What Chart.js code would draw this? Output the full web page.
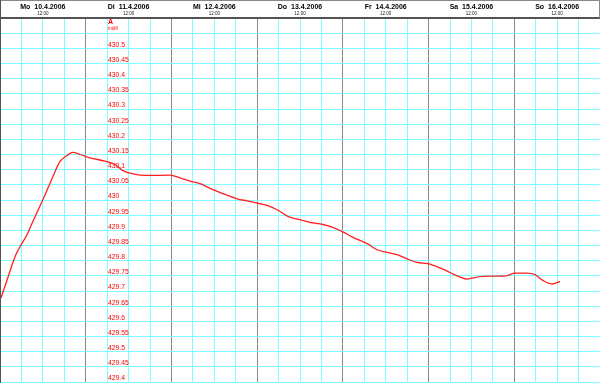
<!DOCTYPE html>
<html>
<head>
<meta charset="utf-8">
<script src="https://cdn.jsdelivr.net/npm/chart.js@4/dist/chart.umd.min.js"></script>
<style>
  html, body { margin: 0; padding: 0; background: #fff; }
  canvas { display: block; }
</style>
</head>
<body>
<canvas id="myChart" width="600" height="383"></canvas>
<script>
// Pegel, Stunden ab Mo 10.4.2006 00:00
const dayLabels = ['Mo  10.4.2006', 'Di  11.4.2006', 'Mi  12.4.2006', 'Do  13.4.2006', 'Fr  14.4.2006', 'Sa  15.4.2006', 'So  16.4.2006'];
const hours = [0.3, 2.0, 4.2, 5.6, 7.6, 9.2, 12.0, 14.8, 16.8, 18.8, 20.4, 22.4, 25.2, 29.4, 32.2, 34.4, 37.2, 41.2, 47.6, 50.4,
  53.2, 56.0, 59.6, 62.4, 66.4, 69.2, 72.0, 74.8, 77.6, 80.6, 84.0, 86.8, 89.6, 93.2, 96.0, 98.8, 102.8, 105.6, 108.4, 111.2,
  114.0, 116.8, 119.8, 123.2, 126.0, 128.8, 130.8, 132.4, 135.2, 139.2, 142.0, 144.2, 147.6, 149.8, 152.0, 154.6, 156.8];
const levels = [429.678, 429.737, 429.813, 429.846, 429.886, 429.929, 430.001, 430.077, 430.127, 430.147, 430.157, 430.150, 430.139, 430.128, 430.117, 430.097, 430.086, 430.081, 430.082, 430.073,
  430.062, 430.054, 430.034, 430.021, 430.004, 429.997, 429.990, 429.982, 429.968, 429.946, 429.935, 429.926, 429.921, 429.910, 429.895, 429.877, 429.856, 429.836, 429.827, 429.820,
  429.806, 429.794, 429.790, 429.776, 429.761, 429.746, 429.739, 429.743, 429.748, 429.749, 429.751, 429.759, 429.759, 429.754, 429.735, 429.723, 429.732];
const yMin = 429.4, yMax = 430.6, yStep = 0.05;
const unitLabel = 'müM';
const fam = "'Liberation Sans', Arial, sans-serif";

const isTop = v => Math.abs(v - 430.55) < 1e-6;
// Achsen ohne eigene Breite/Polster, Beschriftung liegt im Diagramm
const flat = s => {
  if (s.isHorizontal()) s.height = s.id === 'x' ? 11 : 7;
  else s.width = 0;
  s.paddingTop = s.paddingBottom = s.paddingLeft = s.paddingRight = 0;
};

const frame = {
  id: 'frame',
  afterDraw(chart) {
    const c = chart.ctx, top = chart.chartArea.top;
    c.save();
    c.strokeStyle = '#888';
    c.lineWidth = 1;
    c.beginPath();
    c.moveTo(0, 0.5); c.lineTo(600, 0.5);
    c.moveTo(599.5, 0); c.lineTo(599.5, top);
    c.stroke();
    c.strokeStyle = '#555';
    c.beginPath();
    c.moveTo(0.5, 0); c.lineTo(0.5, chart.height);
    c.stroke();
    c.restore();
  }
};

const ctx = document.getElementById('myChart').getContext('2d');
new Chart(ctx, {
  type: 'line',
  data: {
    datasets: [{
      data: hours.map((h, i) => ({x: h, y: levels[i]})),
      borderColor: '#ff2020',
      borderWidth: 1.3,
      pointRadius: 0,
      tension: 0.4,
      cubicInterpolationMode: 'monotone',
      fill: false
    }]
  },
  options: {
    responsive: false,
    animation: false,
    layout: { padding: { left: 0, right: 0, top: 0, bottom: 1 } },
    plugins: { legend: { display: false }, tooltip: { enabled: false } },
    scales: {
      x: {
        type: 'linear', position: 'top', weight: 2,
        min: 0, max: 168,
        afterFit: flat,
        grid: {
          drawTicks: false,
          color: c => (c.tick && c.tick.value % 24 === 0) ? '#888' : '#80ffff',
          lineWidth: 1
        },
        border: { display: false },
        ticks: {
          stepSize: 6, autoSkip: false, maxRotation: 0, padding: 0,
          color: '#000',
          font: { family: fam, size: 7, weight: 'bold' },
          callback: v => v % 24 === 12 ? dayLabels[(v - 12) / 24] : ''
        }
      },
      x2: {
        type: 'linear', position: 'top', weight: 1,
        min: 0, max: 168,
        afterFit: flat,
        grid: { display: false, drawTicks: false },
        border: { display: true, color: '#555', width: 2 },
        ticks: {
          stepSize: 6, autoSkip: false, maxRotation: 0, padding: 1.5,
          color: '#222',
          font: { family: fam, size: 4.5 },
          callback: v => v % 24 === 12 ? '12:00' : ''
        }
      },
      y: {
        position: 'left',
        min: yMin, max: yMax,
        afterFit: flat,
        grid: { drawTicks: false, color: '#80ffff', lineWidth: 1 },
        border: { display: false },
        ticks: {
          stepSize: yStep, autoSkip: false, mirror: true, padding: 108,
          color: '#f00',
          font: c => (c.tick && isTop(c.tick.value))
            ? { family: fam, size: 7, weight: 'bold', lineHeight: 3.1 }
            : { family: fam, size: 6.8, lineHeight: 1 },
          callback: v => {
            if (isTop(v)) return ['A', ''];
            if (v > 430.575) return '';
            return [String(Math.round(v * 100) / 100), ''];
          }
        }
      },
      y2: {
        position: 'left',
        min: yMin, max: yMax,
        afterFit: flat,
        grid: { display: false, drawTicks: false },
        border: { display: false },
        ticks: {
          stepSize: yStep, autoSkip: false, mirror: true, padding: 108,
          color: '#f00',
          font: { family: fam, size: 4.5, lineHeight: 1.8 },
          callback: v => isTop(v) ? [unitLabel, ''] : ''
        }
      }
    }
  },
  plugins: [frame]
});
</script>
</body>
</html>
